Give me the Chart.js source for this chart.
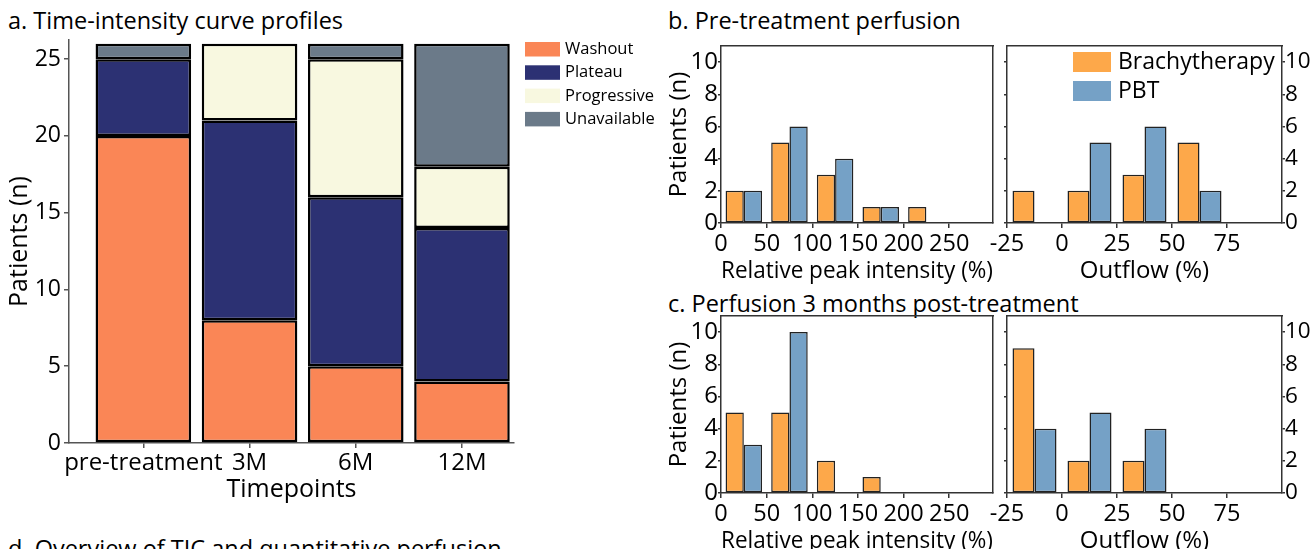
<!DOCTYPE html>
<html lang="en">
<head>
    <meta charset="UTF-8">
    <title>Perfusion profiles</title>
    <script src="https://cdn.jsdelivr.net/npm/chart.js"></script>
    <style>
        body { margin: 0; width: 1311px; height: 549px; overflow: hidden; position: relative; background: #fff; }
        canvas { position: absolute; }
        .ttl { position: absolute; font-family: 'Open Sans', sans-serif; font-size: 23.5px; line-height: 23.5px; color: #000; white-space: nowrap; }
    </style>
</head>
<body>
    <div class="ttl" style="left:8px; top:9px;">a. Time-intensity curve profiles</div>
    <div class="ttl" style="left:668px; top:9px;">b. Pre-treatment perfusion</div>
    <div class="ttl" style="left:668px; top:292px;">c. Perfusion 3 months post-treatment</div>
    <div class="ttl" style="left:8px; top:537px;">d. Overview of TIC and quantitative perfusion</div>

    <canvas id="tic" width="665" height="475" style="left:0; top:30px;"></canvas>
    <canvas id="prePeak" width="340" height="258" style="left:660px; top:30px;"></canvas>
    <canvas id="preOut" width="326" height="258" style="left:985px; top:30px;"></canvas>
    <canvas id="postPeak" width="340" height="258" style="left:660px; top:300px;"></canvas>
    <canvas id="postOut" width="326" height="258" style="left:985px; top:300px;"></canvas>

    <script>
        // a. TIC profiles per timepoint (patients)
        const timepoints = ['pre-treatment', '3M', '6M', '12M'];
        const washout = [20, 8, 5, 4];
        const plateau = [5, 13, 11, 10];
        const progressive = [0, 5, 9, 4];
        const unavailable = [1, 0, 1, 8];
        const patientTicks = [0, 5, 10, 15, 20, 25];

        // b/c. histograms, bin centres and counts
        const peakBins = [25, 75, 125, 175, 225, 275];
        const outflowBins = [-12.5, 12.5, 37.5, 62.5, 87.5];
        const peakTicks = [0, 50, 100, 150, 200, 250];
        const outflowTicks = [-25, 0, 25, 50, 75];
        const countTicks = [0, 2, 4, 6, 8, 10];

        const prePeakBrachy = [2, 5, 3, 1, 1, 0];
        const prePeakPBT = [2, 6, 4, 1, 0, 0];
        const preOutBrachy = [2, 2, 3, 5, 0];
        const preOutPBT = [0, 5, 6, 2, 0];
        const postPeakBrachy = [5, 5, 2, 1, 0, 0];
        const postPeakPBT = [3, 10, 0, 0, 0, 0];
        const postOutBrachy = [9, 2, 2, 0, 0];
        const postOutPBT = [4, 5, 4, 0, 0];

        const FONT = "'Open Sans', sans-serif";
        Chart.defaults.font.family = FONT;
        Chart.defaults.color = '#000';

        // empty bins are left out (null) so nothing is drawn there
        function toPoints(xs, ys) {
            return xs.map((x, i) => ({ x: x, y: ys[i] === 0 ? null : ys[i] }));
        }

        // fixed axis box sizes, no extra room for overhanging labels
        function fixHeight(h) {
            return s => { s.height = h; s.paddingLeft = 0; s.paddingRight = 0; };
        }
        function fixWidth(w) {
            return s => { s.width = w; s.paddingTop = 0; s.paddingBottom = 0; };
        }

        // legend drawn as a stack of swatches next to / inside the plot area
        const boxLegend = {
            id: 'boxLegend',
            afterDraw(chart, args, opts) {
                if (!opts.display) return;
                const { ctx, chartArea } = chart;
                ctx.save();
                ctx.font = opts.fontSize + 'px ' + FONT;
                ctx.textBaseline = 'middle';
                chart.data.datasets.forEach((ds, i) => {
                    const x = chartArea.right + opts.dx;
                    const y = chartArea.top + opts.dy + i * opts.step;
                    ctx.fillStyle = ds.backgroundColor;
                    ctx.fillRect(x, y, opts.boxW, opts.boxH);
                    ctx.fillStyle = '#000';
                    ctx.fillText(ds.label, x + opts.boxW + opts.gap, y + opts.boxH / 2);
                });
                ctx.restore();
            }
        };

        // ---- a. stacked bars ----
        new Chart(document.getElementById('tic'), {
            type: 'bar',
            data: {
                datasets: [
                    { label: 'Washout', data: toPoints([0, 1, 2, 3], washout), backgroundColor: '#fa8656' },
                    { label: 'Plateau', data: toPoints([0, 1, 2, 3], plateau), backgroundColor: '#2c3173' },
                    { label: 'Progressive', data: toPoints([0, 1, 2, 3], progressive), backgroundColor: '#f8f8e0' },
                    { label: 'Unavailable', data: toPoints([0, 1, 2, 3], unavailable), backgroundColor: '#6b7a89' }
                ]
            },
            options: {
                responsive: false,
                animation: false,
                layout: { padding: { left: 0, top: 10, right: 151, bottom: 0 } },
                datasets: {
                    bar: { borderColor: '#000', borderWidth: 2.5, borderSkipped: false, categoryPercentage: 1, barPercentage: 0.9 }
                },
                scales: {
                    x: {
                        type: 'linear', stacked: true, offset: false, min: -0.7, max: 3.49,
                        afterBuildTicks: s => { s.ticks = timepoints.map((t, i) => ({ value: i })); },
                        afterFit: fixHeight(62),
                        ticks: { callback: v => timepoints[v], font: { size: 24 }, padding: 1, maxRotation: 0, autoSkip: false },
                        grid: { offset: false, drawOnChartArea: false, tickLength: 5, color: '#555', lineWidth: 1.5 },
                        border: { color: '#555', width: 1.5 },
                        title: { display: true, text: 'Timepoints', font: { size: 25 }, padding: { top: 0, bottom: 0 } }
                    },
                    y: {
                        stacked: true, min: 0, max: 26.25,
                        afterBuildTicks: s => { s.ticks = patientTicks.map(v => ({ value: v })); },
                        afterFit: fixWidth(69),
                        ticks: { font: { size: 23 }, padding: 3 },
                        grid: { drawOnChartArea: false, tickLength: 5, color: '#555', lineWidth: 1.5 },
                        border: { color: '#555', width: 1.5 },
                        title: { display: true, text: 'Patients (n)', font: { size: 25 }, padding: { top: 5, bottom: 0 } }
                    }
                },
                plugins: {
                    legend: { display: false },
                    tooltip: { enabled: false },
                    boxLegend: { display: true, dx: 11, dy: 2, step: 23.3, boxW: 35, boxH: 14.5, gap: 5, fontSize: 16.5 }
                }
            },
            plugins: [boxLegend]
        });

        // ---- b/c. grouped histograms ----
        function histogram(id, bins, brachy, pbt, xTicks, xMin, xMax, xTitle, side, legend) {
            const left = side === 'left';
            const frame = { color: '#333', width: 1.5 };
            const tick = { drawOnChartArea: false, tickLength: 4, color: '#333', lineWidth: 1.5 };
            return new Chart(document.getElementById(id), {
                type: 'bar',
                data: {
                    datasets: [
                        { label: 'Brachytherapy', data: toPoints(bins, brachy), backgroundColor: '#fda84a' },
                        { label: 'PBT', data: toPoints(bins, pbt), backgroundColor: '#75a1c6' }
                    ]
                },
                options: {
                    responsive: false,
                    animation: false,
                    layout: { padding: { left: 0, top: 16, right: left ? 7 : 0, bottom: 0 } },
                    datasets: {
                        bar: { borderColor: '#222', borderWidth: 1.5, borderSkipped: false, categoryPercentage: 0.8, barPercentage: 1 }
                    },
                    scales: {
                        x: {
                            type: 'linear', offset: false, min: xMin, max: xMax,
                            afterBuildTicks: s => { s.ticks = xTicks.map(v => ({ value: v })); },
                            afterFit: fixHeight(65),
                            ticks: { font: { size: 23.5 }, padding: 2, maxRotation: 0, autoSkip: false },
                            grid: Object.assign({}, tick, { offset: false, tickLength: 5 }),
                            border: frame,
                            title: { display: true, text: xTitle, font: { size: 24 }, padding: { top: 0, bottom: 2.6 } }
                        },
                        xTop: {
                            type: 'linear', position: 'top', offset: false, min: xMin, max: xMax,
                            afterFit: fixHeight(0),
                            ticks: { display: false },
                            grid: { display: false },
                            border: frame
                        },
                        y: {
                            min: 0, max: 11,
                            afterBuildTicks: s => { s.ticks = countTicks.map(v => ({ value: v })); },
                            afterFit: fixWidth(left ? 61 : 22),
                            ticks: { display: left, font: { size: 24 }, padding: 0 },
                            grid: Object.assign({}, tick, { tickLength: 3 }),
                            border: frame,
                            title: { display: left, text: 'Patients (n)', font: { size: 24 }, padding: { top: 4.6, bottom: 0 } }
                        },
                        yRight: {
                            position: 'right', min: 0, max: 11,
                            afterBuildTicks: s => { s.ticks = countTicks.map(v => ({ value: v })); },
                            afterFit: fixWidth(left ? 0 : 29),
                            ticks: { display: !left, font: { size: 22.5 }, padding: 0 },
                            grid: Object.assign({}, tick, { display: !left, tickLength: 3 }),
                            border: frame
                        }
                    },
                    plugins: {
                        legend: { display: false },
                        tooltip: { enabled: false },
                        boxLegend: { display: legend, dx: -209, dy: 6, step: 29, boxW: 38, boxH: 20, gap: 7, fontSize: 23 }
                    }
                },
                plugins: [boxLegend]
            });
        }

        histogram('prePeak', peakBins, prePeakBrachy, prePeakPBT, peakTicks, 0, 298, 'Relative peak intensity (%)', 'left', false);
        histogram('preOut', outflowBins, preOutBrachy, preOutPBT, outflowTicks, -25, 100, 'Outflow (%)', 'right', true);
        histogram('postPeak', peakBins, postPeakBrachy, postPeakPBT, peakTicks, 0, 298, 'Relative peak intensity (%)', 'left', false);
        histogram('postOut', outflowBins, postOutBrachy, postOutPBT, outflowTicks, -25, 100, 'Outflow (%)', 'right', false);
    </script>
</body>
</html>
